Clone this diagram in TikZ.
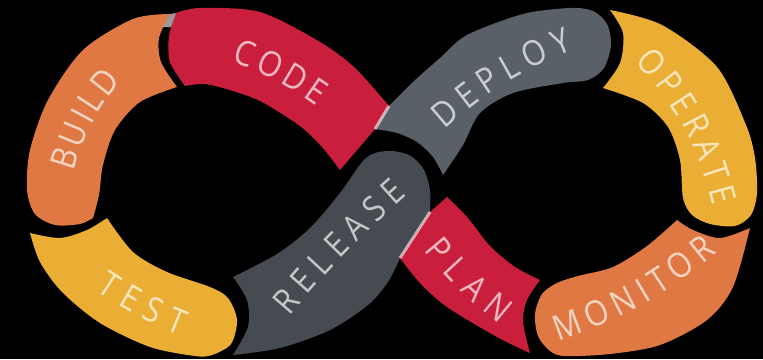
\documentclass[tikz,border=0pt]{standalone}
\usepackage{fontspec}
\usepackage{xcolor}
\usepackage{tikz}
\usetikzlibrary{decorations.text}
\newfontfamily\stagefont[FakeStretch=0.88]{Open Sans}
\newcommand\stagetext{\stagefont\fontsize{35}{35}\selectfont}
\definecolor{buildorange}{HTML}{DF7842}
\definecolor{codered}{HTML}{CA1F3C}
\definecolor{deploygray}{HTML}{5A6067}
\definecolor{releasegray}{HTML}{464B51}
\definecolor{testyellow}{HTML}{E9AE33}

\begin{document}
\begin{tikzpicture}[x=1pt, y=-1pt, stage/.style={fill=#1}, junction/.style={draw=white, opacity=.6, line width=3pt},
  stagelabel/.style 2 args={decorate, decoration={text along path, text align=fit to path, raise=-12.5pt, text color=white!68!#1, text={|\stagetext|#2}}}]
\fill[black] (0,0) rectangle (763,359);
\useasboundingbox (0,0) rectangle (763,359);

% left loop
\fill[stage=buildorange] plot[smooth] coordinates {(170,14) (133,19) (83,50) (48,100) (30,150) (27,190) (35,214) (55,225) (80,224) (93,218)}
  -- plot[smooth] coordinates {(93,218) (99,195) (103,165) (115,130) (140,102) (177,87)}
  -- plot[smooth] coordinates {(177,87) (161,62) (159,38) (170,14)} -- cycle;
\fill[stage=codered] plot[smooth] coordinates {(176,13) (200,8) (260,12) (320,42) (355,68) (389,106)}
  -- (375,129) -- (340,170)
  -- plot[smooth] coordinates {(340,170) (322,147) (300,126) (262,102) (233,91) (205,84) (185,86)}
  -- plot[smooth] coordinates {(185,86) (170,62) (169,36) (176,13)} -- cycle;
\fill[stage=testyellow] plot[smooth] coordinates {(30,233) (60,238) (87,230) (107,218)}
  -- plot[smooth] coordinates {(107,218) (133,252) (167,272) (210,287) (228,298) (237,320) (231,344) (212,355) (195,356) (150,347) (100,323) (62,292) (40,262) (30,233)} -- cycle;
\fill[stage=releasegray] plot[smooth] coordinates {(233,277) (247,300) (248,327) (233,355)}
  -- plot[smooth] coordinates {(233,355) (280,348) (330,330) (368,305) (388,282) (400,258)}
  -- (430,212)
  -- plot[smooth] coordinates {(430,212) (430,190) (424,170) (411,156) (393,151) (375,153) (362,162) (340,193) (310,228) (277,254) (233,277)} -- cycle;

% right loop
\fill[stage=deploygray] plot[smooth] coordinates {(389,106) (413,82) (440,58) (467,35) (523,14) (570,8) (593,11) (607,24) (611,45) (604,68) (588,80) (563,83) (513,93) (480,113) (463,145) (443,175)}
  -- plot[smooth] coordinates {(443,175) (433,157) (417,142) (397,133) (375,129)} -- cycle;
\fill[stage=codered] (400,258) -- (430,212) -- (447,197)
  -- plot[smooth] coordinates {(447,197) (467,217) (490,246) (515,267) (540,280)}
  -- plot[smooth] coordinates {(540,280) (527,300) (523,322) (530,353)}
  -- plot[smooth] coordinates {(530,353) (497,337) (447,307) (420,283) (400,258)} -- cycle;
\fill[stage=testyellow] plot[smooth] coordinates {(610,10) (623,33) (620,63) (603,88)}
  -- plot[smooth] coordinates {(603,88) (643,103) (668,127) (680,160) (683,198) (692,215) (710,224) (735,226) (751,215) (757,193) (755,158) (746,125) (717,67) (662,25) (610,10)} -- cycle;
\fill[stage=buildorange] plot[smooth] coordinates {(677,220) (647,246) (613,267) (578,276) (557,283) (542,294) (535,314) (538,336) (550,351) (565,356) (610,354) (660,345) (707,320) (733,287) (750,228)}
  -- plot[smooth] coordinates {(750,228) (720,238) (693,230) (677,220)} -- cycle;

% joins
\fill[white, opacity=.6] (170,14) -- (176,13) -- (171,27) -- (163,27) -- cycle;
\draw[junction] (389,106) -- (375,129);
\draw[junction] (430,212) -- (400,258);

% labels
\path[stagelabel={buildorange}{BUILD}] (62,168) to[bend left=12] (112,73);
\path[stagelabel={codered}{CODE}] (236,50) to[bend left=8] (324,96);
\path[stagelabel={deploygray}{DEPLOY}] (436,120) to[bend left=10] (569,39);
\path[stagelabel={testyellow}{TEST}] (102,280) to[bend right=6] (185,324);
\path[stagelabel={releasegray}{RELEASE}] (280,308) to[bend left=4] (399,186);
\path[stagelabel={codered}{PLAN}] (433,242) to[bend right=6] (507,315);
\path[stagelabel={testyellow}{OPERATE}] (644,53) to[bend left=14] (725,203);
\path[stagelabel={buildorange}{MONITOR}] (554,330) to[bend right=10] (709,243);
\end{tikzpicture}
\end{document}
